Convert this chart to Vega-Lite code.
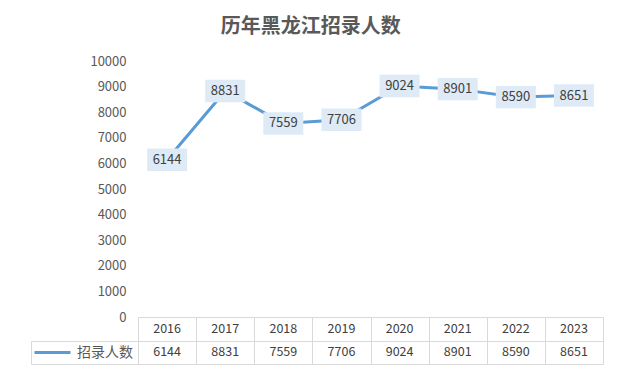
{
  "$schema": "https://vega.github.io/schema/vega-lite/v6.json",
  "padding": {"left": 30, "top": 17, "right": 19, "bottom": 10},
  "background": "white",
  "bounds": "flush",
  "title": {
    "text": "历年黑龙江招录人数",
    "font": "Noto Sans CJK SC",
    "fontSize": 20,
    "fontWeight": "bold",
    "color": "#595959",
    "anchor": "middle",
    "frame": "bounds",
    "dx": -6,
    "offset": 18
  },
  "data": {
    "values": [
      {"year": "2016", "value": 6144},
      {"year": "2017", "value": 8831},
      {"year": "2018", "value": 7559},
      {"year": "2019", "value": 7706},
      {"year": "2020", "value": 9024},
      {"year": "2021", "value": 8901},
      {"year": "2022", "value": 8590},
      {"year": "2023", "value": 8651}
    ]
  },
  "spacing": 0,
  "vconcat": [
    {
      "width": 465,
      "height": 256,
      "encoding": {
        "x": {"field": "year", "type": "nominal", "scale": {"type": "point", "padding": 0.5}, "axis": null},
        "y": {
          "field": "value",
          "type": "quantitative",
          "scale": {"domain": [0, 10000], "nice": false},
          "axis": {
            "values": [0, 1000, 2000, 3000, 4000, 5000, 6000, 7000, 8000, 9000, 10000],
            "format": "d",
            "grid": false,
            "domain": false,
            "ticks": false,
            "tickSize": 0,
            "labelPadding": 12,
            "labelFontSize": 13,
            "labelColor": "#595959",
            "labelFont": "Noto Sans CJK SC",
            "title": null
          }
        }
      },
      "layer": [
        {
          "mark": {"type": "line", "strokeWidth": 3},
          "encoding": {
            "color": {
              "datum": "招录人数",
              "scale": {"range": ["#5B9BD5"]},
              "legend": {
                "orient": "none",
                "legendX": -105,
                "legendY": 272,
                "title": null,
                "symbolType": "stroke",
                "symbolSize": 1296,
                "symbolStrokeWidth": 3,
                "labelFontSize": 14,
                "labelFont": "Noto Sans CJK SC",
                "labelColor": "#595959",
                "labelOffset": 5,
                "padding": 0
              }
            }
          }
        },
        {
          "mark": {"type": "point", "shape": "M-1,-0.56H1V0.56H-1Z", "size": 1600, "filled": true, "color": "#DEEBF7", "opacity": 1}
        },
        {
          "mark": {"type": "text", "font": "Noto Sans CJK SC", "fontSize": 13, "color": "#404040"},
          "encoding": {"text": {"field": "value", "type": "quantitative", "format": "d"}}
        }
      ]
    },
    {
      "width": 465,
      "height": 47,
      "encoding": {
        "x": {
          "field": "year",
          "type": "nominal",
          "scale": {"type": "band", "paddingInner": 0, "paddingOuter": 0},
          "axis": {
            "orient": "bottom",
            "grid": true,
            "tickBand": "extent",
            "labels": false,
            "ticks": false,
            "domain": false,
            "title": null,
            "gridColor": "#D9D9D9",
            "gridOpacity": 1
          }
        }
      },
      "layer": [
        {
          "mark": {"type": "text", "font": "Noto Sans CJK SC", "fontSize": 12.5, "color": "#404040"},
          "encoding": {
            "y": {
              "datum": "year",
              "type": "nominal",
              "scale": {"domain": ["year", "value"], "type": "band", "paddingInner": 0, "paddingOuter": 0},
              "axis": {
                "grid": true,
                "tickBand": "extent",
                "gridColor": "#D9D9D9",
                "gridOpacity": 1,
                "offset": 107,
                "domain": true,
                "domainColor": "#D9D9D9",
                "domainDash": [0, 23.5, 23.5, 0],
                "title": null,
                "labels": false,
                "ticks": true,
                "tickSize": -107,
                "tickColor": "#D9D9D9",
                "tickOpacity": {"condition": {"test": "datum.extra", "value": 0}, "value": 1}
              }
            },
            "text": {"field": "year", "type": "nominal"}
          }
        },
        {
          "mark": {"type": "text", "font": "Noto Sans CJK SC", "fontSize": 12.5, "color": "#404040"},
          "encoding": {
            "y": {"datum": "value", "type": "nominal"},
            "text": {"field": "value", "type": "quantitative", "format": "d"}
          }
        }
      ]
    }
  ],
  "config": {"view": {"stroke": null}, "font": "Noto Sans CJK SC"}
}
